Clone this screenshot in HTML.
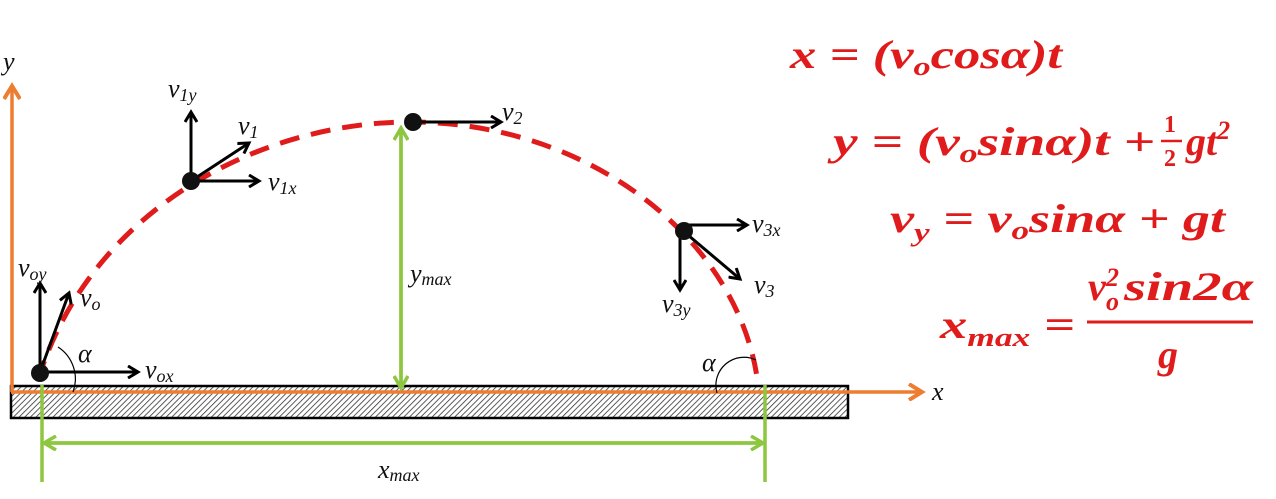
<!DOCTYPE html>
<html><head><meta charset="utf-8"><style>
html,body{margin:0;padding:0;background:#fff;}
svg{display:block;}
.l{font-family:"Liberation Serif",serif;font-style:italic;font-size:26px;fill:#111;}
.s{font-size:18px;}
.e{font-family:"Liberation Serif",serif;font-style:italic;font-weight:bold;font-size:40px;fill:#e01b1b;}
.es{font-size:26px;}
</style></head><body>
<svg width="1276" height="499" viewBox="0 0 1276 499" xmlns="http://www.w3.org/2000/svg">
<defs>
<pattern id="h" width="4" height="4" patternUnits="userSpaceOnUse" patternTransform="rotate(45)">
<rect width="4" height="4" fill="#fff"/><line x1="0" y1="0" x2="0" y2="4" stroke="#333" stroke-width="1.6"/></pattern>
<marker id="ab" markerWidth="14" markerHeight="14" refX="11" refY="7" orient="auto" markerUnits="userSpaceOnUse"><path d="M1,1 L11,7 L1,13" fill="none" stroke="#000" stroke-width="3"/></marker>
<marker id="ag" markerWidth="16" markerHeight="16" refX="13" refY="8" orient="auto" markerUnits="userSpaceOnUse"><path d="M1,1 L13,8 L1,15" fill="none" stroke="#8dc63f" stroke-width="3.5"/></marker>
<marker id="ao" markerWidth="18" markerHeight="18" refX="14" refY="9" orient="auto" markerUnits="userSpaceOnUse"><path d="M1,1 L14,9 L1,17" fill="none" stroke="#ed7d31" stroke-width="4"/></marker>
</defs>
<rect x="11" y="386" width="837" height="32" fill="url(#h)" stroke="#000" stroke-width="2.5"/>
<line x1="11" y1="392" x2="922" y2="392" stroke="#ed7d31" stroke-width="3.5" marker-end="url(#ao)"/>
<line x1="12" y1="392" x2="12" y2="86" stroke="#ed7d31" stroke-width="3.5" marker-end="url(#ao)"/>
<text class="l" x="3" y="70">y</text>
<text class="l" x="932" y="400">x</text>
<line x1="401" y1="128" x2="401" y2="388" stroke="#8dc63f" stroke-width="3.5" marker-end="url(#ag)"/>
<line x1="401" y1="388" x2="401" y2="128" stroke="#8dc63f" stroke-width="3.5" marker-end="url(#ag)"/>
<line x1="42" y1="385" x2="42" y2="482" stroke="#8dc63f" stroke-width="3.5"/>
<line x1="765" y1="385" x2="765" y2="482" stroke="#8dc63f" stroke-width="3.5"/>
<line x1="46" y1="443" x2="763" y2="443" stroke="#8dc63f" stroke-width="3.5" marker-end="url(#ag)"/>
<line x1="763" y1="443" x2="44" y2="443" stroke="#8dc63f" stroke-width="3.5" marker-end="url(#ag)"/>
<text class="l" x="410" y="282">y<tspan class="s" dy="3">max</tspan></text>
<text class="l" x="378" y="478">x<tspan class="s" dy="3">max</tspan></text>
<path d="M38,380 C90,210 260,122 410,122 C590,122 740,240 758,384" fill="none" stroke="#e01b1b" stroke-width="5" stroke-dasharray="20,12"/>
<line x1="40" y1="372" x2="40" y2="283" stroke="#000" stroke-width="3" marker-end="url(#ab)"/>
<line x1="40" y1="372" x2="69" y2="293" stroke="#000" stroke-width="3" marker-end="url(#ab)"/>
<line x1="40" y1="372" x2="138" y2="372" stroke="#000" stroke-width="3" marker-end="url(#ab)"/>
<circle cx="40" cy="373" r="9" fill="#111"/>
<path d="M58,347 A38,38 0 0 1 73,392" fill="none" stroke="#000" stroke-width="1.2"/>
<text class="l" x="18" y="276">v<tspan class="s" dy="4">oy</tspan></text>
<text class="l" x="80" y="306">v<tspan class="s" dy="4">o</tspan></text>
<text class="l" x="78" y="362">α</text>
<text class="l" x="145" y="378">v<tspan class="s" dy="4">ox</tspan></text>
<line x1="191" y1="181" x2="191" y2="112" stroke="#000" stroke-width="3" marker-end="url(#ab)"/>
<line x1="191" y1="181" x2="249" y2="143" stroke="#000" stroke-width="3" marker-end="url(#ab)"/>
<line x1="191" y1="181" x2="259" y2="181" stroke="#000" stroke-width="3" marker-end="url(#ab)"/>
<circle cx="191" cy="181" r="9" fill="#111"/>
<text class="l" x="168" y="97">v<tspan class="s" dy="4">1y</tspan></text>
<text class="l" x="238" y="134">v<tspan class="s" dy="4">1</tspan></text>
<text class="l" x="268" y="190">v<tspan class="s" dy="4">1x</tspan></text>
<line x1="413" y1="122" x2="501" y2="122" stroke="#000" stroke-width="3" marker-end="url(#ab)"/>
<circle cx="413" cy="122" r="9" fill="#111"/>
<text class="l" x="502" y="120">v<tspan class="s" dy="4">2</tspan></text>
<line x1="684" y1="225" x2="747" y2="225" stroke="#000" stroke-width="3" marker-end="url(#ab)"/>
<line x1="682" y1="230" x2="740" y2="279" stroke="#000" stroke-width="3" marker-end="url(#ab)"/>
<line x1="680" y1="228" x2="680" y2="290" stroke="#000" stroke-width="3" marker-end="url(#ab)"/>
<circle cx="684" cy="231" r="9" fill="#111"/>
<text class="l" x="752" y="232">v<tspan class="s" dy="4">3x</tspan></text>
<text class="l" x="754" y="293">v<tspan class="s" dy="4">3</tspan></text>
<text class="l" x="662" y="312">v<tspan class="s" dy="4">3y</tspan></text>
<path d="M717,393 A28,28 0 0 1 756,360" fill="none" stroke="#000" stroke-width="1.2"/>
<text class="l" x="702" y="371">α</text>
<!-- equations -->
<text class="e" x="790" y="68" textLength="272" lengthAdjust="spacingAndGlyphs">x = (v<tspan class="es" dy="7">o</tspan><tspan dy="-7">cosα)t</tspan></text>
<text class="e" x="833" y="155" textLength="322" lengthAdjust="spacingAndGlyphs">y  = (v<tspan class="es" dy="7">o</tspan><tspan dy="-7">sinα)t +</tspan></text>
<text class="e" x="1164" y="132" style="font-size:24px;font-style:normal">1</text>
<line x1="1161" y1="141" x2="1182" y2="141" stroke="#e01b1b" stroke-width="2.5"/>
<text class="e" x="1164" y="166" style="font-size:24px;font-style:normal">2</text>
<text class="e" x="1186" y="155">gt<tspan class="es" dy="-16">2</tspan></text>
<text class="e" x="890" y="232" textLength="335" lengthAdjust="spacingAndGlyphs">v<tspan class="es" dy="9">y</tspan><tspan dy="-9"> = v</tspan><tspan class="es" dy="7">o</tspan><tspan dy="-7">sinα + gt</tspan></text>
<text class="e" x="940" y="338" textLength="135" lengthAdjust="spacingAndGlyphs">x<tspan class="es" dy="8">max</tspan><tspan dy="-8"> =</tspan></text>
<text class="e" x="1088" y="300">v</text>
<text class="e es" x="1106" y="286">2</text>
<text class="e es" x="1106" y="310">o</text>
<text class="e" x="1124" y="300" textLength="129" lengthAdjust="spacingAndGlyphs">sin2α</text>
<line x1="1087" y1="322" x2="1253" y2="322" stroke="#e01b1b" stroke-width="3"/>
<text class="e" x="1158" y="368">g</text>
</svg>
</body></html>
